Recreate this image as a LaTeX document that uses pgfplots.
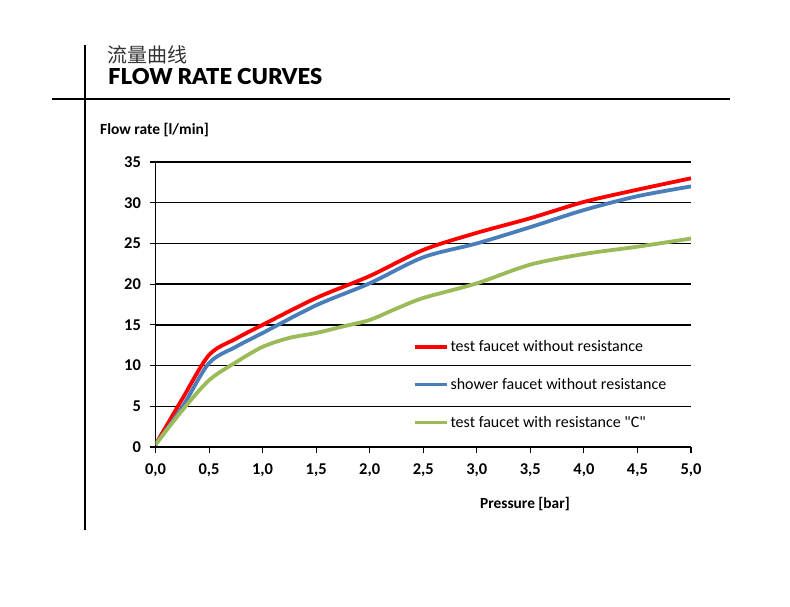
\documentclass[border=0pt]{standalone}
\usepackage{fontspec}
\setmainfont{Carlito}
\newfontfamily\plainfont{Carlito}
\newfontfamily\cjk{Noto Sans CJK SC}
\newfontfamily\titlefont{Lato Black}
\usepackage{pgfplots}
\pgfplotsset{compat=1.18}
\definecolor{cred}{RGB}{255,0,0}
\definecolor{cblue}{RGB}{74,126,187}
\definecolor{cgreen}{RGB}{155,187,89}
\begin{document}
\begin{tikzpicture}[x=1pt,y=1pt]
\path[use as bounding box] (0,0) rectangle (790,-607);
\draw[line width=2pt] (85,-45) -- (85,-530);
\draw[line width=2pt] (52,-99) -- (730,-99);
\node[anchor=west,inner sep=0] at (107,-55) {\cjk\fontsize{20}{20}\selectfont\color{black!80}流量曲线};
\node[anchor=west,inner sep=0] at (108,-77) {\resizebox{214pt}{!}{\titlefont\fontsize{19.5}{20}\selectfont FLOW RATE CURVES}};
\node[anchor=west,inner sep=0] at (100,-130) {\bfseries\fontsize{15.5}{15.5}\selectfont Flow rate [l/min]};
\begin{axis}[
  at={(155.5pt,-447pt)}, anchor=origin,
  scale only axis, width=535.5pt, height=285pt,
  xmin=0, xmax=5, ymin=0, ymax=35,
  axis x line*=bottom, axis y line*=left,
  axis line style={line width=1.3pt},
  tick align=outside,
  major tick length=6pt,
  tick style={line width=1.1pt, black},
  xtick={0,0.5,1,1.5,2,2.5,3,3.5,4,4.5,5},
  ytick={0,5,10,15,20,25,30,35},
  ymajorgrids, grid style={line width=1.3pt, black},
  /pgf/number format/assume math mode=true,
  tick label style={font=\bfseries\fontsize{16.5}{16.5}\selectfont},
  x tick label style={yshift=-7pt, /pgf/number format/.cd, fixed, fixed zerofill, precision=1, use comma},
  y tick label style={xshift=-5pt},
  xlabel={Pressure [bar]},
  xlabel style={font=\bfseries\fontsize{15.4}{15.4}\selectfont, at={(axis description cs:0.69,0)}, anchor=north, yshift=-47pt},
  legend cell align=left,
  legend image code/.code={\draw[#1] (0pt,0pt) -- (32pt,0pt);},
  legend style={at={(axis description cs:0.48,0.382)}, anchor=north west, draw=none, fill=none,
    font=\fontsize{16}{16}\selectfont, row sep=21.3pt, inner sep=0pt},
]
\addplot[cred, line width=3.8pt, smooth] coordinates {
(0,0.3) (0.25,5.9) (0.5,11.3) (0.75,13.3) (1,15.0) (1.5,18.3) (2,21.0) (2.5,24.2) (3,26.3) (3.5,28.1) (4,30.1) (4.5,31.6) (5,33.0)};
\addlegendentry{test faucet without resistance}
\addplot[cblue, line width=3.8pt, smooth] coordinates {
(0,0.3) (0.25,4.9) (0.5,10.3) (0.75,12.3) (1,14.0) (1.5,17.4) (2,20.1) (2.5,23.3) (3,25.0) (3.5,27.0) (4,29.1) (4.5,30.8) (5,32.0)};
\addlegendentry{shower faucet without resistance}
\addplot[cgreen, line width=3.8pt, smooth] coordinates {
(0,0.3) (0.25,4.5) (0.5,8.2) (0.75,10.4) (1,12.3) (1.25,13.4) (1.5,14.0) (1.75,14.8) (2,15.6) (2.25,17.0) (2.5,18.3) (3,20.1) (3.5,22.4) (4,23.7) (4.5,24.6) (5,25.6)};
\addlegendentry{test faucet with resistance {\plainfont "C"}}
\end{axis}
\end{tikzpicture}
\end{document}
